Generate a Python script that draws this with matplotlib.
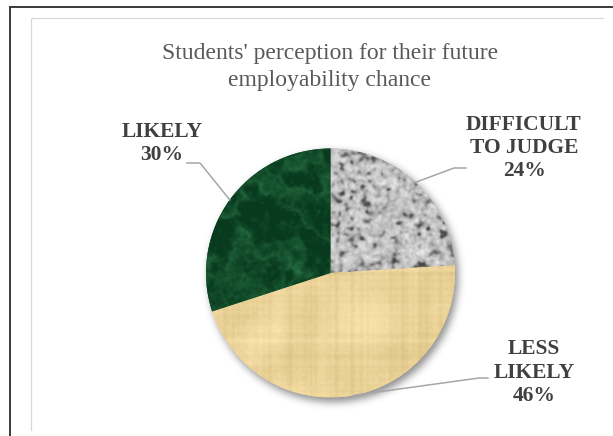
import numpy as np
import matplotlib
matplotlib.use("Agg")
import matplotlib.pyplot as plt

# Survey results
categories = ["DIFFICULT\nTO JUDGE", "LESS\nLIKELY", "LIKELY"]
shares = [24, 46, 30]
title = "Students' perception for their future\nemployability chance"

W, H = 613, 436
fig = plt.figure(figsize=(W / 100, H / 100), dpi=100, facecolor="white")
ax = fig.add_axes([0, 0, 1, 1])
ax.set_xlim(0, W)
ax.set_ylim(0, H)
ax.axis("off")

# frame lines and chart-area border
ax.plot([9.5, 9.5], [-5, H - 7.5], color="#3a3a3a", lw=1.4,
        solid_capstyle="projecting")
ax.plot([9.5, 612], [H - 7.5, H - 7.5], color="#3a3a3a", lw=1.4,
        solid_capstyle="projecting")
ax.plot([30.5, 30.5, 603], [6, H - 18.5, H - 18.5], color="#d9d9d9", lw=0.9,
        solid_joinstyle="miter")

cx, cy, r = 330.5, H - 273, 124.5


def blur(a, s):
    ny, nx = a.shape
    ky = np.fft.fftfreq(ny)[:, None]
    kx = np.fft.fftfreq(nx)[None, :]
    g = np.exp(-2 * (np.pi * s) ** 2 * (kx ** 2 + ky ** 2))
    return np.real(np.fft.ifft2(np.fft.fft2(a) * g))


def norm(a):
    return (a - a.mean()) / (a.std() + 1e-9)


rng = np.random.default_rng(7)
N = 256

# granite texture
g1 = norm(blur(rng.standard_normal((N, N)), 1.8))
g2 = norm(blur(rng.standard_normal((N, N)), 1.0))
gray = 190 + 26 * np.tanh(0.7 * g1) + 8 * g2
gray = gray - 55 * np.clip(-g1 - 0.9, 0, 1.6)
gray = np.clip(gray, 70, 235) / 255
granite = np.dstack([gray, gray, gray])

# parchment texture
rows = norm(blur(rng.standard_normal((N, 1)) * np.ones((1, N)), 1.2))
cols = norm(blur(np.ones((N, 1)) * rng.standard_normal((1, N)), 1.2))
blot = norm(blur(rng.standard_normal((N, N)), 16))
fine = norm(blur(rng.standard_normal((N, N)), 0.8))
base = np.array([236, 212, 154], float)
shade = 2.6 * rows + 2.6 * cols + 4 * blot + 1.5 * fine
parch = np.clip((base[None, None, :] + shade[..., None] * np.array([1.0, 1.0, 1.15])) / 255, 0, 1)

# green marble texture
m1 = norm(blur(rng.standard_normal((N, N)), 10))
m2 = norm(blur(rng.standard_normal((N, N)), 4))
m3 = norm(blur(rng.standard_normal((N, N)), 1.2))
veins = np.exp(-np.abs(m1 + 0.5 * m2) * 1.3)
dark = np.array([8, 58, 30], float)
light = np.array([48, 125, 76], float)
t = np.clip(0.45 * veins + 0.07 * m3 + 0.10 * np.clip(m2, -1, 2), 0, 1)
marble = np.clip((dark + (light - dark) * t[..., None]) / 255, 0, 1)

textures = [granite, parch, marble]
fallback = ["#c0c0c0", "#ecd49c", "#1a5a33"]

# soft drop shadow
pad = 30
ys, xs = np.mgrid[0:2 * (r + pad):1.0, 0:2 * (r + pad):1.0]
d = np.hypot(xs + 0.5 - (r + pad) - 3, ys + 0.5 - (r + pad) - 5)
mask = (d < r).astype(float)
sh = blur(mask, 4.0)
shadow = np.zeros(sh.shape + (4,))
shadow[..., 3] = np.clip(sh, 0, 1) * 0.45
ax.imshow(shadow, extent=(cx - r - pad, cx + r + pad, cy - r - pad, cy + r + pad),
          origin="upper", zorder=1, interpolation="bilinear")

wedges, _ = ax.pie(shares, startangle=90, counterclock=False,
                   center=(cx, cy), radius=r, colors=fallback,
                   wedgeprops=dict(linewidth=0))
for w in wedges:
    w.set_zorder(2)
ax.set_xlim(0, W)
ax.set_ylim(0, H)
ax.set_aspect("auto")

for w, tex in zip(wedges, textures):
    im = ax.imshow(tex, extent=(cx - r, cx + r, cy - r, cy + r), origin="upper",
                   zorder=3, interpolation="bilinear")
    im.set_clip_path(w)

# labels with elbow leader lines
label_pos = [(524, H - 148), (534, H - 372.5), (162, H - 143.5)]
elbows = [((466, H - 168), (454, H - 168)),
          ((488, H - 378), (479, H - 378)),
          ((187, H - 163), (200, H - 163))]
tfont = dict(family="Liberation Serif", fontweight="bold", fontsize=15.5,
             color="#404040", ha="center", va="center", linespacing=1.22)
for w, cat, val, (lx, ly), (p0, p1) in zip(wedges, categories, shares, label_pos, elbows):
    ang = np.deg2rad((w.theta1 + w.theta2) / 2)
    ex, ey = cx + r * np.cos(ang), cy + r * np.sin(ang)
    ax.plot([p0[0], p1[0], ex], [p0[1], p1[1], ey], color="#a6a6a6", lw=1.1, zorder=4)
    ax.text(lx, ly, f"{cat}\n{val}%", **tfont)

ax.text(330, H - 67, title, family="Liberation Serif", fontsize=17,
        color="#595959", ha="center", va="center", linespacing=1.35)

fig.savefig("out.png", dpi=100, facecolor="white")
